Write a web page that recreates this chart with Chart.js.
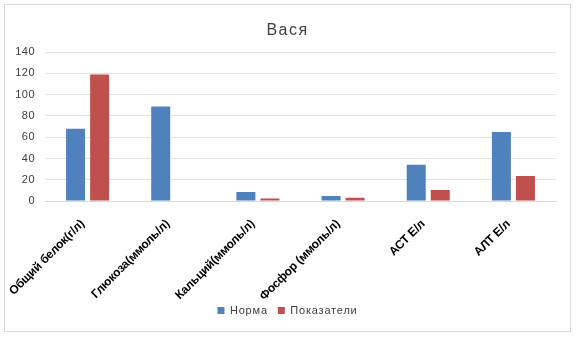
<!DOCTYPE html>
<html>
<head>
<meta charset="utf-8">
<script src="https://cdn.jsdelivr.net/npm/chart.js@4"></script>
<style>
  body { margin: 0; background: #fff; }
  #box { position: absolute; left: 4px; top: 4px; width: 565px; height: 326px; border: 1px solid #d9d9d9; }
</style>
</head>
<body>
<div id="box"><canvas id="myChart" width="565" height="326"></canvas></div>
<script>
var categories = ['Общий белок(г/л)', 'Глюкоза(ммоль/л)', 'Кальций(ммоль/л)', 'Фосфор (ммоль/л)', 'АСТ Е/л', 'АЛТ Е/л'];
var norma = [68, 89, 8.5, 4.7, 34, 65];
var pokazateli = [119, 0, 2.3, 3, 10.4, 23.6];
var yTicks = [0, 20, 40, 60, 80, 100, 120, 140];

// letter spacing, a bit wider on title/legend/y ticks, tighter on x labels
var spacing = {
    id: 'spacing',
    beforeDraw: function (chart) { chart.ctx.letterSpacing = '0.5px'; },
    afterDatasetsDraw: function (chart) { chart.ctx.letterSpacing = '-0.2px'; },
    afterDraw: function (chart) { chart.ctx.letterSpacing = '0px'; }
};

// wrap a box method: own letter spacing, optional horizontal shift
function patch(obj, name, px, dx) {
    var fn = obj[name];
    obj[name] = function () {
        var c = myChart.ctx;
        var old = c.letterSpacing;
        c.letterSpacing = px;
        this.left += dx; this.right += dx;
        var r = fn.apply(this, arguments);
        this.left -= dx; this.right -= dx;
        c.letterSpacing = old;
        return r;
    };
}

var ctx = document.getElementById('myChart').getContext('2d');
var myChart = new Chart(ctx, {
    type: 'bar',
    data: {
        labels: categories,
        datasets: [{
            label: 'Норма',
            data: norma,
            backgroundColor: '#4f81bd',
            categoryPercentage: 0.565,
            barPercentage: 0.79
        },
        {
            label: 'Показатели',
            data: pokazateli,
            backgroundColor: '#c0504d',
            categoryPercentage: 0.565,
            barPercentage: 0.79
        }]
    },
    options: {
        responsive: false,
        animation: false,
        layout: { padding: { left: 0, right: 14, top: 0, bottom: 5 } },
        plugins: {
            title: {
                display: true,
                text: 'Вася',
                color: '#404040',
                font: { family: 'Liberation Sans', size: 16, weight: 'normal' },
                padding: { top: 16, bottom: 12 }
            },
            legend: {
                position: 'bottom',
                labels: {
                    boxWidth: 7,
                    boxHeight: 7,
                    color: '#404040',
                    font: { family: 'Liberation Sans', size: 11 },
                    padding: 10
                }
            },
            tooltip: { enabled: false }
        },
        scales: {
            x: {
                afterFit: function (scale) {
                    scale.height = 94;
                    scale.paddingLeft = 0;
                    scale.paddingRight = 0;
                },
                grid: { display: false },
                border: { color: '#d9d9d9' },
                ticks: {
                    z: 1,
                    color: '#000',
                    font: { family: 'Liberation Sans', size: 12, weight: 'bold' },
                    minRotation: 45,
                    maxRotation: 45,
                    labelOffset: -5,
                    padding: 8
                }
            },
            y: {
                min: 0,
                max: 140,
                afterFit: function (scale) { scale.width = 40; },
                afterBuildTicks: function (scale) { scale.ticks = yTicks.map(function (v) { return { value: v }; }); },
                grid: { color: '#e3e3e3', drawTicks: false },
                border: { display: false },
                ticks: {
                    color: '#404040',
                    font: { family: 'Liberation Sans', size: 11 },
                    padding: 10
                }
            }
        }
    },
    plugins: [spacing]
});

myChart.scales.x._computeLabelArea = function () {};
patch(myChart.titleBlock, 'draw', '1.5px', 7);
patch(myChart.legend, 'fit', '0.8px', 0);
patch(myChart.legend, 'draw', '0.8px', 7);
myChart.update();
</script>
</body>
</html>
